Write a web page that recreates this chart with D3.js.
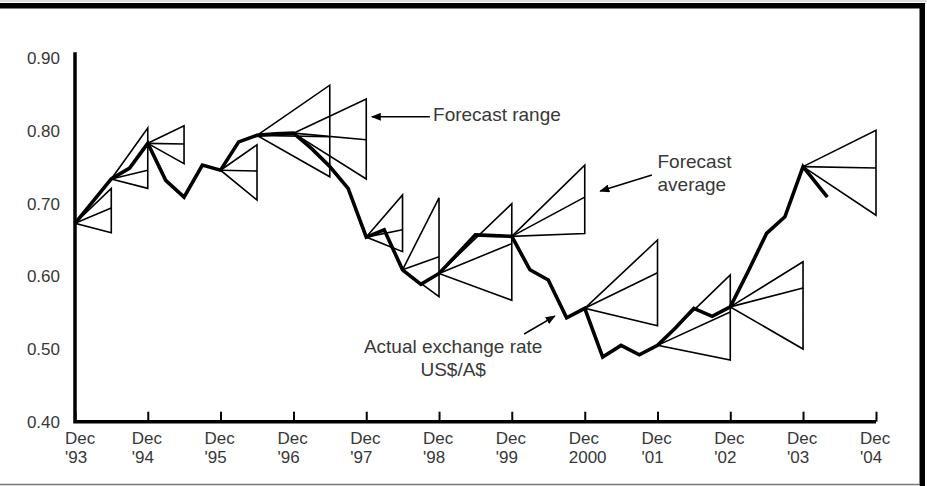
<!DOCTYPE html>
<html>
<head>
<meta charset="utf-8">
<script src="https://cdn.jsdelivr.net/npm/d3@7"></script>
<style>
body { margin: 0; background: #fff; }
svg text { font-family: "Liberation Sans", Arial, Helvetica, sans-serif; fill: #383838; }
</style>
</head>
<body>
<svg id="chart" width="927" height="486"></svg>
<script>
// actual exchange rate, US$ per A$, quarterly (last point is the latest month)
const rateMonths = ["1993-12", "1994-03", "1994-06", "1994-09", "1994-12", "1995-03", "1995-06", "1995-09",
    "1995-12", "1996-03", "1996-06", "1996-09", "1996-12", "1997-03", "1997-06", "1997-09",
    "1997-12", "1998-03", "1998-06", "1998-09", "1998-12", "1999-03", "1999-06", "1999-09",
    "1999-12", "2000-03", "2000-06", "2000-09", "2000-12", "2001-03", "2001-06", "2001-09",
    "2001-12", "2002-03", "2002-06", "2002-09", "2002-12", "2003-03", "2003-06", "2003-09",
    "2003-12", "2004-04"];
const rateValues = [0.673, 0.703, 0.734, 0.749, 0.783, 0.732, 0.709, 0.753,
    0.746, 0.785, 0.794, 0.796, 0.797, 0.776, 0.751, 0.721,
    0.654, 0.664, 0.609, 0.589, 0.604, 0.630, 0.657, 0.656,
    0.655, 0.609, 0.595, 0.543, 0.556, 0.489, 0.505, 0.492,
    0.505, 0.529, 0.556, 0.545, 0.558, 0.607, 0.659, 0.682,
    0.751, 0.709];

// forecast fans: made at fanStart, for fanEnd
const fanStart = ["1993-12", "1994-06", "1994-12", "1995-12", "1996-06", "1996-12", "1997-12",
    "1998-06", "1998-12", "1999-12", "2000-12", "2001-12", "2002-12", "2003-12"];
const fanEnd = ["1994-06", "1994-12", "1995-06", "1996-06", "1997-06", "1997-12", "1998-06",
    "1998-12", "1999-12", "2000-12", "2001-12", "2002-12", "2003-12", "2004-12"];
const fanHigh = [0.721, 0.804, 0.807, 0.781, 0.863, 0.844, 0.712, 0.708, 0.700, 0.753, 0.650, 0.602, 0.620, 0.801];
const fanAvg  = [0.694, 0.746, 0.782, 0.745, 0.792, 0.788, 0.664, 0.627, 0.645, 0.709, 0.605, 0.551, 0.584, 0.749];
const fanLow  = [0.660, 0.721, 0.755, 0.705, 0.737, 0.734, 0.634, 0.572, 0.567, 0.659, 0.532, 0.485, 0.500, 0.684];

const yTicks = [0.40, 0.50, 0.60, 0.70, 0.80, 0.90];
const xTickMonths = ["1993-12", "1994-12", "1995-12", "1996-12", "1997-12", "1998-12",
    "1999-12", "2000-12", "2001-12", "2002-12", "2003-12", "2004-12"];
const xTickTop = ["Dec", "Dec", "Dec", "Dec", "Dec", "Dec", "Dec", "Dec", "Dec", "Dec", "Dec", "Dec"];
const xTickBottom = ["'93", "'94", "'95", "'96", "'97", "'98", "'99", "2000", "'01", "'02", "'03", "'04"];

let parseMonth = d3.timeParse("%Y-%m");
let parseDay = d3.timeParse("%Y-%m-%d");

let svg = d3.select("#chart");

let x = d3.scaleTime()
    .domain([parseMonth("1993-12"), parseMonth("2004-12")])
    .range([75, 876]);
let y = d3.scaleLinear()
    .domain([0.4, 0.9])
    .range([421.7, 58.3]);

// frame
svg.append("line").attr("x1", 0).attr("x2", 927).attr("y1", 1).attr("y2", 1)
    .attr("stroke", "#bbb").attr("stroke-width", 1);
svg.append("rect").attr("x", 0).attr("y", 3).attr("width", 925).attr("height", 5.5).attr("fill", "#000");
svg.append("rect").attr("x", 919.5).attr("y", 3).attr("width", 5.5).attr("height", 483).attr("fill", "#000");
svg.append("line").attr("x1", 0).attr("x2", 920).attr("y1", 484.5).attr("y2", 484.5)
    .attr("stroke", "#777").attr("stroke-width", 1.5);

// y labels (no tick marks)
svg.append("g")
    .selectAll("text")
    .data(yTicks)
    .enter().append("text")
        .attr("x", x(parseMonth("1993-12")) - 15)
        .attr("y", d => y(d))
        .attr("dy", "0.35em")
        .attr("text-anchor", "end")
        .style("font-size", "17px")
        .text(d => d3.format(".2f")(d));

// x ticks pointing up
let xAxis = svg.append("g")
    .attr("transform", `translate(0, ${y(0.4)})`)
    .call(d3.axisBottom(x)
        .tickValues(xTickMonths.map(parseMonth))
        .tickSize(-10)
        .tickSizeOuter(0)
        .tickFormat(""));
xAxis.select(".domain").remove();
xAxis.selectAll(".tick line").attr("stroke", "#000").attr("stroke-width", 2);

// the two axis lines
svg.append("path")
    .attr("fill", "none")
    .attr("stroke", "#000")
    .attr("stroke-width", 3.5)
    .attr("stroke-linejoin", "miter")
    .attr("d", d3.line()([[x.range()[0], y(0.9) - 6], [x.range()[0], y(0.4)], [x.range()[1], y(0.4)]]));

// x labels, two lines each
let xLabels = svg.append("g");
xTickMonths.forEach(function(m, i) {
    let tx = x(parseMonth(m)) + (i == 0 ? -10 : -16);
    let t = xLabels.append("text")
        .attr("x", tx)
        .attr("y", y(0.4) + 22)
        .style("font-size", "17px");
    t.append("tspan").attr("x", tx).text(xTickTop[i]);
    t.append("tspan").attr("x", tx).attr("dy", 19.5).text(xTickBottom[i]);
});

// forecast fans
let fans = svg.append("g")
    .attr("fill", "none")
    .attr("stroke", "#000")
    .attr("stroke-width", 1.6)
    .attr("stroke-linejoin", "miter");
fanStart.forEach(function(s, i) {
    let apexValue = rateValues[rateMonths.indexOf(s)];
    let apex = [x(parseMonth(s)), y(apexValue)];
    let xe = x(parseMonth(fanEnd[i]));
    fans.append("path")
        .attr("d", d3.line()([apex, [xe, y(fanHigh[i])], [xe, y(fanLow[i])]]) + "Z");
    fans.append("path")
        .attr("d", d3.line()([apex, [xe, y(fanAvg[i])]]));
});

// actual rate
svg.append("path")
    .datum(rateMonths.map((m, i) => ({ date: parseMonth(m), value: rateValues[i] })))
    .attr("fill", "none")
    .attr("stroke", "#000")
    .attr("stroke-width", 3.6)
    .attr("stroke-linejoin", "miter")
    .attr("stroke-miterlimit", 3)
    .attr("d", d3.line()
        .x(d => x(d.date))
        .y(d => y(d.value)));

// annotations
svg.append("defs").append("marker")
    .attr("id", "arrow")
    .attr("viewBox", "0 0 10 8")
    .attr("refX", 9)
    .attr("refY", 4)
    .attr("markerWidth", 10)
    .attr("markerHeight", 8)
    .attr("markerUnits", "userSpaceOnUse")
    .attr("orient", "auto")
    .append("path")
        .attr("d", "M0,0 L10,4 L0,8 Z")
        .attr("fill", "#000");

function arrow(fromDay, fromValue, toDay, toValue) {
    svg.append("line")
        .attr("x1", x(parseDay(fromDay)))
        .attr("y1", y(fromValue))
        .attr("x2", x(parseDay(toDay)))
        .attr("y2", y(toValue))
        .attr("stroke", "#000")
        .attr("stroke-width", 1.6)
        .attr("marker-end", "url(#arrow)");
}

function label(day, value, lines, anchor) {
    let t = svg.append("text")
        .attr("x", x(parseDay(day)))
        .attr("y", y(value))
        .attr("text-anchor", anchor)
        .style("font-size", "19px");
    lines.forEach(function(l, i) {
        t.append("tspan").attr("x", x(parseDay(day))).attr("dy", i == 0 ? 0 : 22.5).text(l);
    });
}

// forecast range
arrow("1998-10-16", 0.8195, "1997-12-29", 0.8195);
label("1998-11-01", 0.8136, ["Forecast range"], "start");

// forecast average
arrow("2001-11-03", 0.7393, "2001-02-17", 0.7173);
label("2001-12-01", 0.749, ["Forecast", "average"], "start");

// actual exchange rate
arrow("2000-02-01", 0.5206, "2000-07-04", 0.5453);
label("1999-02-10", 0.494, ["Actual exchange rate", "US$/A$"], "middle");
</script>
</body>
</html>
